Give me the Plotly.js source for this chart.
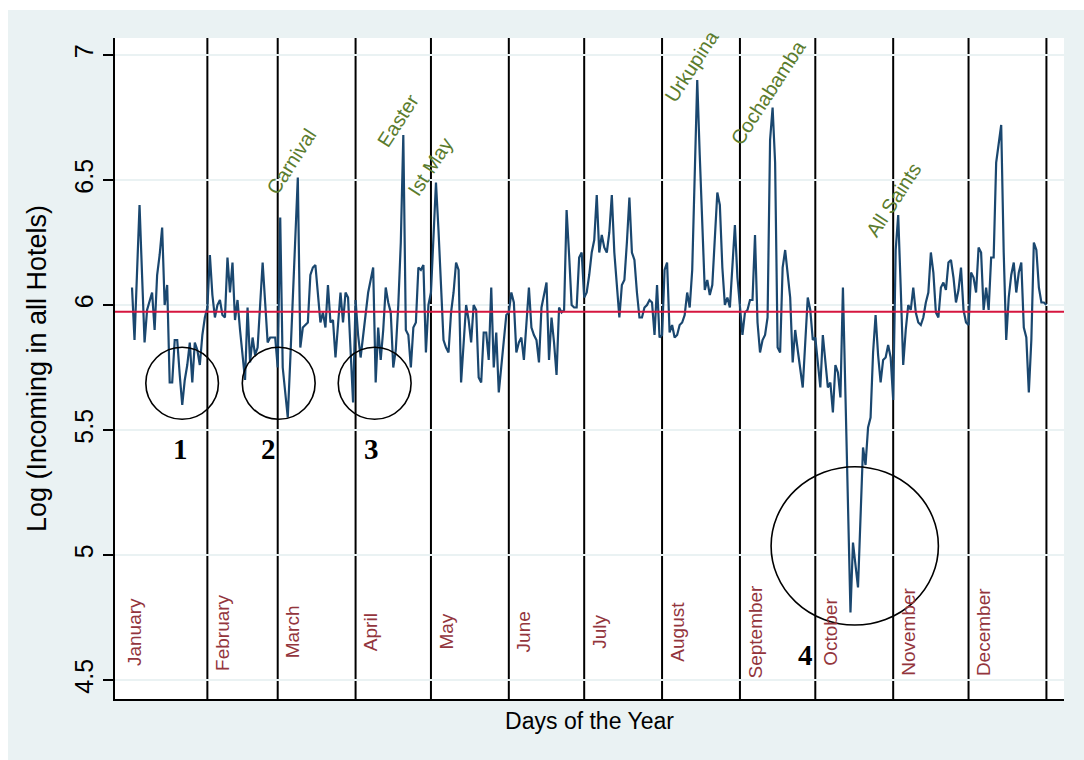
<!DOCTYPE html>
<html>
<head>
<meta charset="utf-8">
<script src="https://cdn.plot.ly/plotly-3.0.1.min.js"></script>
<style>
  html, body { margin: 0; padding: 0; background: #ffffff; }
  #chart { position: absolute; left: 8px; top: 10px; width: 1076px; height: 750px; }
</style>
</head>
<body>
<div id="chart"></div>
<script>
// ---- Data: log of incoming guests in all hotels, by day of the year ----
const janVals = [6.07,5.86,6.13,6.40,6.12,5.85,5.98,6.02,6.05,5.90,6.12,6.20,6.31,6.00,6.08,5.69,5.69,5.86,5.86,5.72,5.60,5.70,5.76,5.85,5.69,5.85,5.82,5.76,5.88,5.95,5.99];
const febVals = [6.20,6.04,5.95,6.00,6.02,5.96,5.95,6.19,6.05,6.17,5.94,6.02,5.90,5.81,5.70,5.99,5.77,5.87,5.80,5.83,6.00,6.17,6.01,5.85,5.87,5.87,5.87,5.75];
const marVals = [6.35,5.75,5.65,5.55,5.78,6.02,6.26,6.51,5.83,5.91,5.92,5.93,6.12,6.15,6.16,6.06,5.93,5.97,5.91,6.08,5.93,5.94,5.79,5.92,6.05,5.93,6.05,6.03,5.79,5.61,6.02];
const aprVals = [5.88,5.79,5.88,5.98,6.05,6.10,6.15,5.69,5.91,5.78,5.90,6.07,6.01,5.97,5.75,5.82,6.00,6.25,6.68,5.90,5.88,5.75,5.91,5.93,6.15,6.14,6.16,5.81,6.00,6.05];
const mayVals = [6.30,6.49,6.30,6.05,5.86,5.83,5.81,5.97,6.05,6.17,6.14,5.69,5.85,6.00,5.94,5.85,6.00,5.98,5.71,5.69,5.89,5.89,5.78,6.07,5.75,5.89,5.65,5.75,5.83,5.96,5.97];
const junVals = [6.05,6.01,5.81,5.85,5.87,5.78,5.95,6.07,5.91,5.88,5.86,5.77,5.99,6.04,6.09,5.78,5.95,5.85,5.72,5.99,5.97,5.98,6.38,6.20,6.00,5.99,5.99,6.19,6.21,6.03];
const julVals = [6.05,6.12,6.21,6.26,6.44,6.21,6.28,6.23,6.21,6.29,6.44,6.21,6.09,5.95,6.08,6.10,6.25,6.43,6.21,6.18,6.05,5.95,5.95,5.99,6.00,6.02,6.01,5.88,6.08,5.87,5.88];
const augVals = [6.14,6.17,5.89,5.92,5.87,5.88,5.92,5.93,5.96,6.05,5.99,6.14,6.52,6.90,6.60,6.30,6.06,6.10,6.04,6.08,6.25,6.45,6.40,6.15,6.00,6.03,5.99,6.17,6.32,6.11,5.98];
const sepVals = [5.88,5.97,5.98,6.02,6.02,6.28,5.93,5.81,5.86,5.88,5.95,6.66,6.79,6.57,5.83,5.81,6.15,6.22,6.12,6.03,5.77,5.90,5.82,5.75,5.67,5.85,6.03,5.98,5.86,5.87];
const octVals = [5.78,5.67,5.88,5.77,5.67,5.69,5.57,5.76,5.73,5.63,6.07,5.64,5.20,4.77,5.05,4.96,4.87,5.15,5.43,5.36,5.51,5.55,5.81,5.96,5.80,5.69,5.78,5.79,5.84,5.79,5.62];
const novVals = [6.22,6.36,6.07,5.76,5.90,6.00,5.98,6.07,5.97,5.93,5.92,5.95,6.01,6.05,6.21,6.13,5.97,5.95,6.07,6.09,6.06,6.17,6.18,6.11,6.01,6.06,6.15,5.98,5.93,5.92];
const decVals = [6.13,6.11,6.05,6.23,6.21,5.98,6.07,5.98,6.19,6.19,6.57,6.65,6.72,6.21,5.86,6.03,6.12,6.17,6.05,6.13,6.17,5.91,5.87,5.65,5.86,6.25,6.22,6.07,6.01,6.01,6.00];

const monthNames = ["January","February","March","April","May","June","July","August","September","October","November","December"];
const meanLevel = 5.973;

const eventNames = ["Carnival","Easter","Ist May","Urkupina","Cochabamba","All Saints"];
const eventDays  = [64.3, 106.7, 119.6, 223.8, 254.0, 304.1];
const eventLevel = [6.572, 6.737, 6.553, 6.957, 6.850, 6.420];

const circleLabels = ["1","2","3","4"];
const circleDayFrom = [6.5, 44.9, 83.1, 255.4];
const circleDayTo   = [35.4, 73.9, 112.1, 322.0];
const circleLow     = [5.543, 5.543, 5.543, 4.720];
const circleHigh    = [5.831, 5.831, 5.831, 5.353];
const circleLabelDay = [20.5, 55.5, 96.5, 268.9];
const circleLabelLvl = [5.424, 5.424, 5.424, 4.600];

const yTicks = [4.5, 5, 5.5, 6, 6.5, 7];
const yTickText = ["4.5","5","5.5","6","6.5","7"];

// ---- Build series ----
const monthly = [janVals,febVals,marVals,aprVals,mayVals,junVals,julVals,augVals,sepVals,octVals,novVals,decVals];
const values = [].concat(...monthly);
const days = values.map((v, i) => i + 1);
const monthEnds = [];
let acc = 0;
monthly.forEach(m => { acc += m.length; monthEnds.push(acc); });
const monthStarts = monthEnds.map((e, i) => (i === 0 ? 0 : monthEnds[i - 1]));

const FONT = "Liberation Sans, Arial, Helvetica, sans-serif";

const shapes = [];
monthEnds.forEach(d => {
  shapes.push({type: "line", xref: "x", yref: "paper", x0: d, x1: d, y0: 0, y1: 1,
    line: {color: "#000000", width: 2}, layer: "below"});
});
shapes.push({type: "line", xref: "paper", yref: "y", x0: 0, x1: 1, y0: meanLevel, y1: meanLevel,
  line: {color: "#d6163f", width: 2}, layer: "above"});
circleLabels.forEach((c, i) => {
  shapes.push({type: "circle", xref: "x", yref: "y",
    x0: circleDayFrom[i], x1: circleDayTo[i], y0: circleLow[i], y1: circleHigh[i],
    line: {color: "#000000", width: 1.6}, layer: "above"});
});

const annotations = [];
monthNames.forEach((m, i) => {
  const xpos = i === 0 ? 1.8 : monthStarts[i] + 5.8;
  annotations.push({text: m, x: xpos, y: 4.692, xref: "x", yref: "y", showarrow: false,
    textangle: -90, xanchor: "center", yanchor: "middle",
    font: {family: FONT, size: 19, color: "#93353d"}});
});
eventNames.forEach((e, i) => {
  annotations.push({text: e, x: eventDays[i], y: eventLevel[i], xref: "x", yref: "y", showarrow: false,
    textangle: -57, xanchor: "center", yanchor: "middle",
    font: {family: FONT, size: 20, color: "#5b7c2e"}});
});
circleLabels.forEach((c, i) => {
  annotations.push({text: "<b>" + c + "</b>", x: circleLabelDay[i], y: circleLabelLvl[i], xref: "x", yref: "y",
    showarrow: false, xanchor: "center", yanchor: "middle",
    font: {family: "Liberation Serif, Times New Roman, serif", size: 29, color: "#000000"}});
});

const trace = {
  x: days, y: values, type: "scatter", mode: "lines",
  line: {color: "#1a476f", width: 2.2}, hoverinfo: "skip"
};

const layout = {
  width: 1076, height: 750,
  paper_bgcolor: "#eaf2f3", plot_bgcolor: "#ffffff",
  margin: {l: 107, r: 20, t: 28, b: 61, pad: 0},
  showlegend: false,
  font: {family: FONT, color: "#000000"},
  xaxis: {
    range: [-5.77, 372.0], showgrid: false, zeroline: false,
    showline: true, linecolor: "#000000", linewidth: 2,
    showticklabels: false, ticks: "",
    title: {text: "Days of the Year", font: {family: FONT, size: 23, color: "#000000"}, standoff: 13}
  },
  yaxis: {
    range: [4.424, 7.068], tickvals: yTicks, ticktext: yTickText, tickangle: -90,
    tickfont: {family: FONT, size: 25, color: "#000000"},
    ticks: "outside", ticklen: 10, tickwidth: 2, tickcolor: "#000000",
    showline: true, linecolor: "#000000", linewidth: 2,
    showgrid: true, gridcolor: "#eaf2f3", gridwidth: 2, zeroline: false,
    title: {text: "Log (Incoming in all Hotels)", font: {family: FONT, size: 27, color: "#000000"}, standoff: 16}
  },
  shapes: shapes,
  annotations: annotations
};

Plotly.newPlot("chart", [trace], layout, {staticPlot: true, displayModeBar: false});
</script>
</body>
</html>
